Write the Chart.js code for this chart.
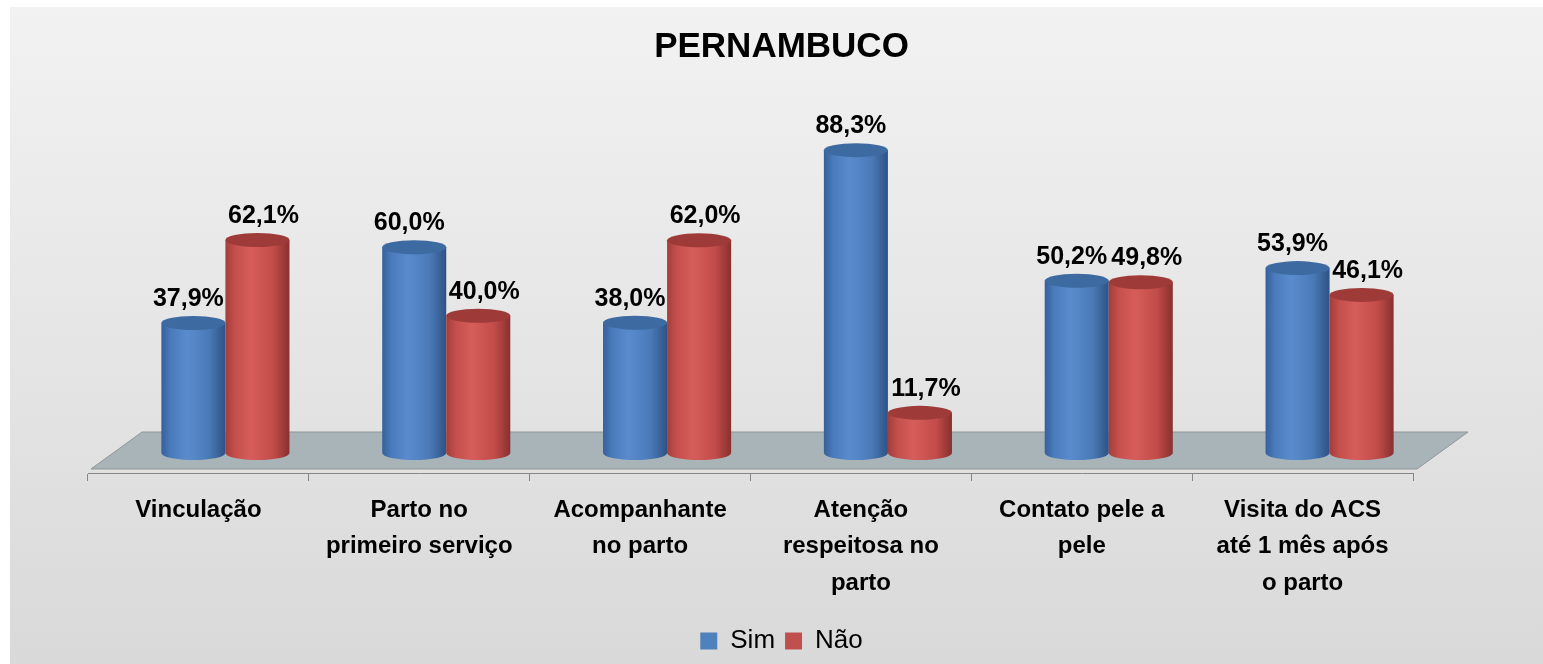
<!DOCTYPE html>
<html>
<head>
<meta charset="utf-8">
<script src="https://cdn.jsdelivr.net/npm/chart.js@4.4.1/dist/chart.umd.min.js"></script>
<style>
html,body{margin:0;padding:0;background:#fff;}
#wrap{position:absolute;left:10px;top:7px;width:1533px;height:657px;background:linear-gradient(#f2f2f2,#d9d9d9);}
</style>
</head>
<body>
<div id="wrap"><canvas id="chart"></canvas></div>
<script>
// Pernambuco - Sim / Não by indicator
const categories = [
  'Vinculação',
  ['Parto no', 'primeiro serviço'],
  ['Acompanhante', 'no parto'],
  ['Atenção', 'respeitosa no', 'parto'],
  ['Contato pele a', 'pele'],
  ['Visita do ACS', 'até 1 mês após', 'o parto']
];
const simValues = [37.9, 60.0, 38.0, 88.3, 50.2, 53.9];
const naoValues = [62.1, 40.0, 62.0, 11.7, 49.8, 46.1];

const FONT = '"Liberation Sans", Arial, sans-serif';
const shades = {
  '#4f81bd': { stops: ['#36609a', '#4a7cbd', '#5a8ccd', '#4a79b6', '#2e5285'], top: '#3d6aa1', dx: -5 },
  '#c0504d': { stops: ['#a33e3b', '#c44f4c', '#d65d5a', '#c24c49', '#88302e'], top: '#9e3b38', dx: 6 }
};
const fmt = v => v.toFixed(1).replace('.', ',') + '%';

// draws floor + 3D cylinders instead of flat bars
const cylinders = {
  id: 'cylinders',
  beforeDatasetsDraw(chart) {
    const { ctx, chartArea: a } = chart;
    const depthX = 51, depthY = 37;
    const fy = a.bottom - 4;
    ctx.save();
    ctx.beginPath();
    ctx.moveTo(a.left + 3, fy);
    ctx.lineTo(a.left + 3 + depthX, fy - depthY);
    ctx.lineTo(a.right + 4 + depthX, fy - depthY);
    ctx.lineTo(a.right + 4, fy);
    ctx.closePath();
    ctx.fillStyle = '#a8b4b8';
    ctx.fill();
    ctx.strokeStyle = '#8f9597';
    ctx.lineWidth = 1;
    ctx.stroke();

    chart.data.datasets.forEach((ds, di) => {
      const meta = chart.getDatasetMeta(di);
      const sh = shades[ds.backgroundColor];
      meta.data.forEach((bar, i) => {
        const { x, y, base, width } = bar.getProps(['x', 'y', 'base', 'width'], true);
        const cx = x + 27, top = y - 20, bot = base - 20, rx = width / 2, ry = 7;
        const g = ctx.createLinearGradient(cx - rx, 0, cx + rx, 0);
        [0, 0.15, 0.4, 0.75, 1].forEach((p, k) => g.addColorStop(p, sh.stops[k]));
        ctx.beginPath();
        ctx.moveTo(cx - rx, top);
        ctx.lineTo(cx - rx, bot);
        ctx.ellipse(cx, bot, rx, ry, 0, Math.PI, 0, true);
        ctx.lineTo(cx + rx, top);
        ctx.closePath();
        ctx.fillStyle = g;
        ctx.fill();
        ctx.beginPath();
        ctx.ellipse(cx, top, rx, ry, 0, 0, Math.PI * 2);
        ctx.fillStyle = sh.top;
        ctx.fill();

        ctx.fillStyle = '#000';
        ctx.font = 'bold 25px ' + FONT;
        ctx.textAlign = 'center';
        ctx.textBaseline = 'middle';
        ctx.fillText(fmt(ds.data[i]), cx + sh.dx, top - 24);
      });
    });
    ctx.restore();
    return false;
  }
};

new Chart(document.getElementById('chart'), {
  type: 'bar',
  data: {
    labels: categories,
    datasets: [
      { label: 'Sim', data: simValues, backgroundColor: '#4f81bd' },
      { label: 'Não', data: naoValues, backgroundColor: '#c0504d' }
    ]
  },
  options: {
    responsive: true,
    maintainAspectRatio: false,
    animation: false,
    categoryPercentage: 0.58,
    barPercentage: 1.0,
    layout: { padding: { left: 10, right: 0, top: 0, bottom: 0 } },
    plugins: {
      title: {
        display: true, text: 'PERNAMBUCO', color: '#000',
        font: { family: FONT, size: 35, weight: 'bold' },
        padding: { top: 19, bottom: 62 }
      },
      legend: {
        position: 'bottom',
        labels: {
          color: '#000', boxWidth: 17, boxHeight: 17, padding: 10,
          font: { family: FONT, size: 26 }
        }
      },
      tooltip: { enabled: false }
    },
    scales: {
      x: {
        offset: true,
        grid: { display: true, offset: true, drawOnChartArea: false, color: '#868686', tickLength: 8 },
        border: { display: true, color: '#868686' },
        ticks: { color: '#000', padding: 11, maxRotation: 0, autoSkip: false, font: { family: FONT, size: 24, weight: 'bold', lineHeight: 1.52 } },
        afterFit: s => { s.height = 145; }
      },
      y: {
        min: 0, max: 100,
        grid: { display: false }, border: { display: false }, ticks: { display: false },
        afterFit: s => { s.width = 68; }
      },
      y2: {
        position: 'right', min: 0, max: 100,
        grid: { display: false }, border: { display: false }, ticks: { display: false },
        afterFit: s => { s.width = 130; }
      }
    }
  },
  plugins: [cylinders]
});
</script>
</body>
</html>
